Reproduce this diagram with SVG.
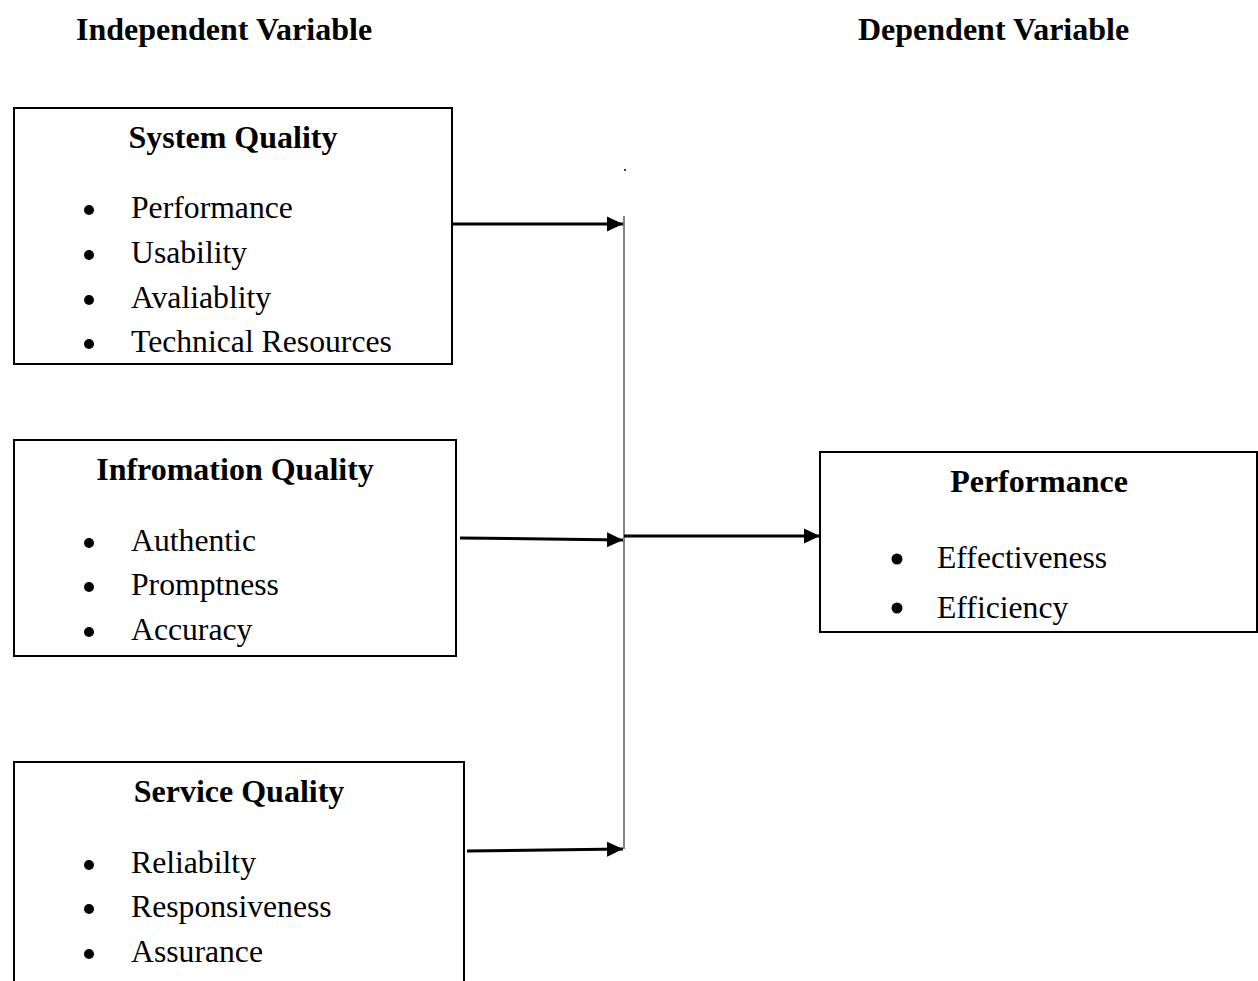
<svg xmlns="http://www.w3.org/2000/svg" width="1258" height="981" viewBox="0 0 1258 981">
  <style>
    .box { fill: #ffffff; stroke: #000000; stroke-width: 2; }
    .title { font-family: "Liberation Serif", "Times New Roman", serif; font-weight: bold; font-size: 32px; fill: #000; }
    .item { font-family: "Liberation Serif", "Times New Roman", serif; font-size: 31.7px; fill: #000; }
    .conn { stroke: #000; stroke-width: 3; fill: none; marker-end: url(#arrow); }
    .bus { stroke: #333; stroke-width: 1.2; fill: none; }
  </style>
  <defs>
    <marker id="arrow" markerUnits="userSpaceOnUse" markerWidth="16" markerHeight="16" refX="16" refY="8" orient="auto">
      <path d="M0,0.5 L16,8 L0,15.5 Z" fill="#000"/>
    </marker>
    <clipPath id="clip-perf">
      <rect x="820" y="452" width="437" height="176"/>
    </clipPath>
  </defs>
  <rect width="1258" height="981" fill="#ffffff"/>

  <g id="headers">
    <text class="title" x="76" y="40">Independent Variable</text>
    <text class="title" x="858" y="40">Dependent Variable</text>
  </g>

  <g id="system-quality">
    <rect class="box" x="14" y="108" width="438" height="256"/>
    <text class="title" x="233" y="148" text-anchor="middle">System Quality</text>
    <circle cx="89" cy="210" r="5"/>
    <text class="item" x="131" y="218">Performance</text>
    <circle cx="89" cy="255" r="5"/>
    <text class="item" x="131" y="263">Usability</text>
    <circle cx="89" cy="300" r="5"/>
    <text class="item" x="131" y="308">Avaliablity</text>
    <circle cx="89" cy="344" r="5"/>
    <text class="item" x="131" y="352">Technical Resources</text>
  </g>

  <g id="information-quality">
    <rect class="box" x="14" y="440" width="442" height="216"/>
    <text class="title" x="235" y="480" text-anchor="middle">Infromation Quality</text>
    <circle cx="89" cy="543" r="5"/>
    <text class="item" x="131" y="551">Authentic</text>
    <circle cx="89" cy="587" r="5"/>
    <text class="item" x="131" y="595">Promptness</text>
    <circle cx="89" cy="632" r="5"/>
    <text class="item" x="131" y="640">Accuracy</text>
  </g>

  <g id="service-quality">
    <rect class="box" x="14" y="762" width="450" height="240"/>
    <text class="title" x="239" y="802" text-anchor="middle">Service Quality</text>
    <circle cx="89" cy="865" r="5"/>
    <text class="item" x="131" y="873">Reliabilty</text>
    <circle cx="89" cy="909" r="5"/>
    <text class="item" x="131" y="917">Responsiveness</text>
    <circle cx="89" cy="954" r="5"/>
    <text class="item" x="131" y="962">Assurance</text>
  </g>

  <g id="performance">
    <rect class="box" x="820" y="452" width="437" height="180"/>
    <text class="title" x="1039" y="492" text-anchor="middle">Performance</text>
    <g clip-path="url(#clip-perf)">
      <circle cx="897" cy="559" r="5.5"/>
      <text class="item" x="937" y="568">Effectiveness</text>
      <circle cx="897" cy="608" r="5.5"/>
      <text class="item" x="937" y="618">Efficiency</text>
    </g>
  </g>

  <g id="connectors">
    <circle cx="625" cy="170" r="1" fill="#000"/>
    <line class="bus" x1="624" y1="216" x2="624" y2="849"/>
    <line class="conn" x1="453" y1="224" x2="623" y2="224"/>
    <line class="conn" x1="460" y1="538" x2="623" y2="540"/>
    <line class="conn" x1="624" y1="536" x2="820" y2="536"/>
    <line class="conn" x1="467" y1="851" x2="623" y2="849"/>
  </g>
</svg>
